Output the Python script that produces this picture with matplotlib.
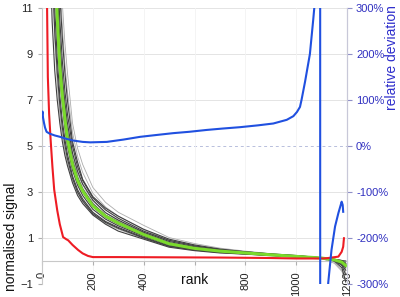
import matplotlib
matplotlib.use("Agg")
import matplotlib.pyplot as plt
import numpy as np

plt.rcParams['font.family'] = ['Liberation Sans', 'DejaVu Sans']

# ---- data ----
rank_pts = [30, 40, 50, 60, 70, 80, 90, 100, 120, 140, 160, 200, 250, 300, 400,
            500, 600, 700, 800, 900, 1000, 1100, 1150, 1180, 1195]

green_vals = [25, 18, 13.5, 10.6, 8.5, 7.2, 6.2, 5.3, 4.2, 3.5, 3.05, 2.4, 1.95, 1.65, 1.15,
              0.75, 0.55, 0.43, 0.35, 0.27, 0.2, 0.13, 0.05, -0.05, -0.2]

gray_dark = [
    [14, 10.4, 8.3, 7.0, 6.0, 5.2, 4.6, 4.15, 3.4, 2.85, 2.5, 2.0, 1.6, 1.3, 0.95,
     0.6, 0.45, 0.35, 0.3, 0.24, 0.18, 0.13, 0.08, 0.02, -0.1],
    [18, 13.0, 10.0, 8.2, 6.8, 5.8, 5.05, 4.45, 3.6, 3.0, 2.62, 2.06, 1.68, 1.42, 1.0,
     0.64, 0.48, 0.38, 0.31, 0.25, 0.19, 0.13, 0.04, -0.05, -0.2],
    [20, 14.5, 11.0, 8.8, 7.2, 6.1, 5.3, 4.65, 3.7, 3.1, 2.7, 2.12, 1.72, 1.46, 1.03,
     0.66, 0.5, 0.39, 0.31, 0.25, 0.19, 0.13, 0.0, -0.15, -0.4],
    [23, 16.5, 12.6, 9.9, 8.0, 6.8, 5.8, 5.0, 3.95, 3.3, 2.85, 2.25, 1.82, 1.53, 1.08,
     0.7, 0.51, 0.4, 0.33, 0.26, 0.2, 0.13, 0.03, -0.1, -0.3],
    [24.5, 17.5, 13.4, 10.5, 8.5, 7.2, 6.15, 5.3, 4.15, 3.45, 3.0, 2.36, 1.9, 1.6, 1.12,
     0.74, 0.54, 0.42, 0.34, 0.27, 0.2, 0.13, 0.05, -0.02, -0.15],
    [26, 19, 14.2, 11.2, 9.0, 7.6, 6.5, 5.6, 4.4, 3.65, 3.15, 2.5, 2.0, 1.7, 1.2,
     0.8, 0.58, 0.45, 0.36, 0.28, 0.21, 0.13, 0.06, 0.0, -0.1],
    [28, 20, 15, 12, 9.6, 8.0, 6.9, 6.0, 4.7, 3.9, 3.35, 2.65, 2.1, 1.78, 1.25,
     0.85, 0.62, 0.48, 0.38, 0.29, 0.22, 0.14, 0.02, -0.2, -0.6],
    [30, 22, 16.5, 13, 10.5, 8.7, 7.4, 6.4, 5.0, 4.1, 3.5, 2.75, 2.22, 1.86, 1.3,
     0.9, 0.66, 0.5, 0.4, 0.3, 0.23, 0.14, 0.07, 0.02, 0.0],
    [33, 24, 18, 14.5, 11.6, 9.7, 8.2, 7.0, 5.2, 4.3, 3.55, 2.8, 2.3, 1.95, 1.38,
     0.95, 0.7, 0.52, 0.4, 0.31, 0.24, 0.14, 0.0, -0.3, -0.9],
]

gray_light = [
    [40, 30, 23, 18, 13.5, 11.2, 9.5, 8.2, 6.0, 4.9, 4.2, 3.2, 2.55, 2.12, 1.55,
     1.02, 0.76, 0.56, 0.43, 0.32, 0.24, 0.15, 0.05, -0.1, -0.5],
    [17, 12.5, 9.6, 7.7, 6.4, 5.5, 4.8, 4.3, 3.5, 2.95, 2.58, 2.03, 1.64, 1.38, 0.98,
     0.63, 0.47, 0.36, 0.29, 0.22, 0.16, 0.11, -0.05, -0.4, -0.8],
    [27, 20, 15, 11.8, 9.4, 7.8, 6.7, 5.8, 4.6, 3.8, 3.3, 2.6, 2.1, 1.75, 1.25,
     0.9, 0.68, 0.5, 0.38, 0.28, 0.2, 0.12, 0.04, -0.1, -0.25],
    [35, 26, 19.5, 15.5, 12.4, 10.2, 8.6, 7.4, 5.6, 4.55, 3.85, 2.95, 2.35, 1.95, 1.36,
     0.9, 0.64, 0.47, 0.36, 0.27, 0.2, 0.11, -0.1, -0.45, -0.95],
]

red_rank = [5, 15, 20, 23, 28, 34, 41, 48, 60, 70, 83, 95, 103, 120, 142, 160, 181, 200,
            300, 500, 700, 900, 1000, 1100, 1120, 1166, 1179, 1185, 1188]
red_vals = [40, 16, 11, 8.0, 6.4, 5.26, 4.1, 3.1, 2.2, 1.6, 1.04, 0.95, 0.9, 0.7, 0.48, 0.33, 0.22, 0.17,
            0.17, 0.16, 0.15, 0.13, 0.11, 0.11, 0.12, 0.19, 0.4, 0.62, 0.99]

blue_rank = [0, 2, 4, 8, 12, 18, 30, 50, 71, 100, 122, 160, 190, 255, 320, 386, 450, 516,
             580, 648, 710, 779, 850, 910, 963, 989, 1003, 1015, 1021, 1035, 1054, 1067,
             1074, 1085, 1094, 1095, 1105, 1115, 1126, 1139, 1153, 1166, 1179, 1183, 1185]
blue_pct = [68, 75, 62, 50, 40, 31, 27, 23, 20, 15, 12, 9, 8, 9, 14, 20, 24, 28,
            31, 35, 38, 41, 45, 49, 57, 65, 74, 85, 100, 140, 200, 274,
            317, 500, 3000, -3000, -1000, -550, -298, -226, -175, -146, -121, -128, -143]

x_ticks = [0, 200, 400, 600, 800, 1000, 1200]
x_ticklabels = ['0', '200', '400', '', '800', '1000', '1200']
y_ticks = [-1, 1, 3, 5, 7, 9, 11]
y2_ticks = [-300, -200, -100, 0, 100, 200, 300]

# ---- figure ----
fig = plt.figure(figsize=(4.0, 2.97), dpi=100)
ax = fig.add_axes([0.105, 0.0438, 0.7625, 0.929])

for g in gray_light:
    ax.plot(rank_pts, g, color='#acacac', lw=0.6, zorder=2)
for g in gray_dark:
    ax.plot(rank_pts, g, color='#404040', lw=0.8, zorder=3)
ax.plot(rank_pts, green_vals, color='#7ada2c', lw=2.2, zorder=4)
ax.plot(red_rank, red_vals, color='#ee1c24', lw=1.5, zorder=5)

ax.spines['top'].set_visible(False)
ax.spines['bottom'].set_position(('data', 0))
ax.spines['bottom'].set_color('#c8c8c8')
ax.spines['left'].set_color('#c8c8c8')
ax.spines['right'].set_color('#c8c8d8')

ax.set_xlim(0, 1200)
ax.set_ylim(-1, 11)
ax.set_yticks(y_ticks)
ax.set_xticks(x_ticks)
ax.set_xticklabels(x_ticklabels)

for y in [11, 9, 7, 3, 1]:
    ax.axhline(y, color='#e4e4e4', lw=0.7, zorder=0)
ax.axhline(5, color='#b8bfdc', lw=0.7, ls=(0, (3, 3)), zorder=0)
for x in [200, 400, 600, 800, 1000]:
    ax.axvline(x, color='#f3f3f3', lw=0.6, zorder=0)

ax.tick_params(axis='x', direction='out', length=3, pad=4.5, color='#b0b0b0',
               labelsize=8, labelcolor='#222222', labelrotation=90)
ax.tick_params(axis='y', direction='out', length=3, pad=3.5, color='#b0b0b0',
               labelsize=8, labelcolor='#222222')

ax.set_ylabel('normalised signal', fontsize=10, color='#111111')
ax.yaxis.set_label_coords(-0.079, 0.17)
ax.text(600, -0.83, 'rank', fontsize=10, ha='center', va='center', color='#111111')

ax2 = ax.twinx()
ax2.set_position([0.105, 0.0438, 0.7625, 0.929])
ax2.plot(blue_rank, blue_pct, color='#2050e0', lw=1.5, zorder=6)
ax2.set_ylim(-300, 300)
ax2.set_yticks(y2_ticks)
ax2.set_yticklabels([f'{v}%' for v in y2_ticks])
ax2.tick_params(axis='y', direction='out', length=3.5, pad=3, color='#9090c8',
                labelsize=8, labelcolor='#3030c0')
for s in ['top', 'left', 'bottom']:
    ax2.spines[s].set_visible(False)
ax2.spines['right'].set_color('#c8c8d8')
ax2.set_ylabel('relative deviation', fontsize=10, color='#2f2fcc', rotation=90)
ax2.yaxis.set_label_coords(1.126, 0.82)

fig.savefig('out.png', dpi=100)
